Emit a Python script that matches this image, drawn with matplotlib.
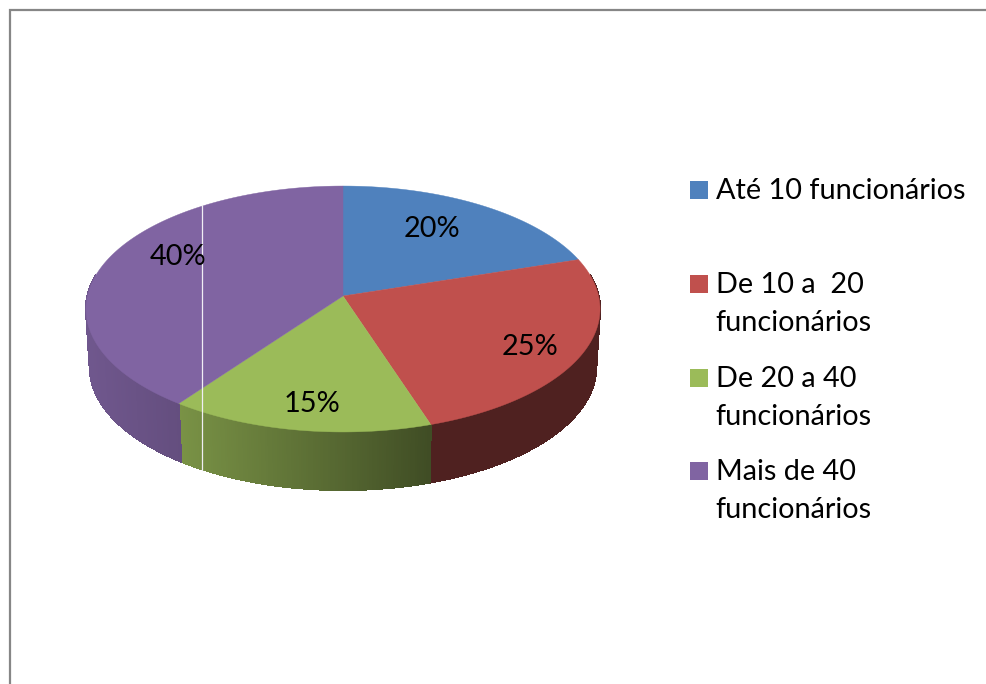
import numpy as np
import matplotlib
matplotlib.use('Agg')
import matplotlib.pyplot as plt
from matplotlib.colors import to_rgb
from matplotlib.patches import Polygon, Rectangle

plt.rcParams['font.family'] = ['Lato', 'DejaVu Sans']

# Share of companies per size band
categories = ['Até 10 funcionários', 'De 10 a  20\nfuncionários',
              'De 20 a 40\nfuncionários', 'Mais de 40\nfuncionários']
shares = [20, 25, 15, 40]
colors = ['#4F81BD', '#C0504D', '#9BBB59', '#8064A2']

# Pie geometry in pixels
CX, CY = 343, 296
RX, RY = 255.6, 121.6
TILT = 0.1057
DEPTH = 58
FONT = 20.8

label_pos = [(432, 229), (530, 347), (312, 404), (178, 257)]
legend_y = [191, 285, 379, 472]


def rim(theta, shrink=1.0, drop=0):
    """Perspective projection of a rim angle (clockwise from the top)."""
    d = 1 + TILT * np.cos(theta)
    x = CX + shrink * RX * np.sin(theta) / d
    y = CY - RY * np.cos(theta) / d + drop
    return x, y


def side_shade(x):
    # wall gets darker towards the right, flat past the red/green edge
    return np.interp(x, [88, 180, 340, 430], [0.87, 0.78, 0.55, 0.41])


fig = plt.figure(figsize=(9.87, 6.84), dpi=100)
ax = fig.add_axes([0, 0, 1, 1])
ax.set_xlim(0, 987)
ax.set_ylim(684, 0)
ax.axis('off')

# chart frame, only top and left are inside the canvas
ax.plot([10, 10, 987], [684, 10, 10], color='#868686', lw=1.6, solid_joinstyle='miter')

edges = np.radians(np.cumsum([0] + shares) * 3.6)

# outer wall, split into thin quads so the shading looks continuous
for start, end, col in zip(edges[:-1], edges[1:], colors):
    lo, hi = max(start, np.radians(80)), min(end, np.radians(280))
    if hi <= lo:
        continue
    steps = np.linspace(lo, hi, int(np.degrees(hi - lo) * 2) + 2)
    base = np.array(to_rgb(col))
    for t0, t1 in zip(steps[:-1], steps[1:]):
        x0, y0 = rim(t0)
        x1, y1 = rim(t1)
        x2, y2 = rim(t1, 0.985, DEPTH)
        x3, y3 = rim(t0, 0.985, DEPTH)
        shade = base * side_shade((x0 + x1) / 2)
        ax.add_patch(Polygon([(x0, y0), (x1, y1), (x2, y2), (x3, y3)],
                             facecolor=shade, edgecolor=shade, lw=0.8,
                             antialiased=False))

# top face
for start, end, col in zip(edges[:-1], edges[1:], colors):
    t = np.linspace(start, end, 150)
    x, y = rim(t)
    pts = np.column_stack([np.r_[CX, x], np.r_[CY, y]])
    ax.add_patch(Polygon(pts, facecolor=col, edgecolor=col, lw=0.3))

# thin white line that crosses the purple slice
ax.plot([202, 202], [205, 470], color='#F0EEF4', lw=0.9)

for value, (x, y) in zip(shares, label_pos):
    ax.text(x, y, f'{value}%', fontsize=FONT, color='black', ha='center', va='center')

for name, col, y in zip(categories, colors, legend_y):
    ax.add_patch(Rectangle((690, y - 10), 18, 18, facecolor=col, edgecolor='none'))
    for i, line in enumerate(name.split('\n')):
        ax.text(715.5, y + i * 38, line, fontsize=FONT, color='black', ha='left', va='center')

fig.savefig('out.png', dpi=100)
